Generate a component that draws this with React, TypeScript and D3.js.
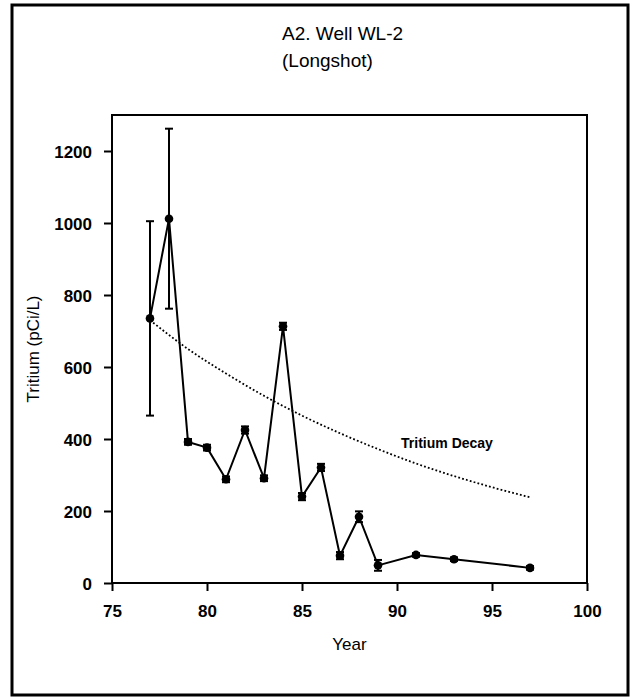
import * as d3 from 'd3';
import { useEffect, useRef } from 'react';

// measured tritium, year -> pCi/L, with +/- error
const years = [77, 78, 79, 80, 81, 82, 83, 84, 85, 86, 87, 88, 89, 91, 93, 97];
const tritium = [735, 1012, 392, 376, 288, 425, 291, 713, 240, 321, 76, 184, 49, 78, 66, 42];
const errors = [270, 250, 8, 8, 8, 10, 8, 10, 10, 10, 10, 15, 15, 5, 5, 5];

// dotted decay curve
const decayYears = [77, 79, 81, 83, 85, 87, 89, 91, 93, 95, 97];
const decayValues = [730, 650, 582, 520, 465, 416, 372, 332, 297, 266, 238];

const xTicks = [75, 80, 85, 90, 95, 100];
const yTicks = [0, 200, 400, 600, 800, 1000, 1200];

const W = 636;
const H = 698;
const plot = { left: 112, right: 587, top: 115, bottom: 583 };
const FONT = '"Liberation Sans", Arial, sans-serif';

const App = () => {
    const svgRef = useRef<SVGSVGElement>(null);

    useEffect(() => {
        const svg = d3.select(svgRef.current);
        const x = d3.scaleLinear().domain([75, 100]).range([plot.left, plot.right]);
        const y = d3.scaleLinear().domain([0, 1300]).range([plot.bottom, plot.top]);

        // outer frame
        svg.append('rect')
            .attr('x', 12).attr('y', 5)
            .attr('width', 616).attr('height', 690)
            .attr('fill', 'none').attr('stroke', '#000').attr('stroke-width', 3);

        // title
        const title = svg.append('text')
            .attr('font-family', FONT).attr('font-size', 19).attr('fill', '#000');
        title.append('tspan').attr('x', 282).attr('y', 40).text('A2. Well WL-2');
        title.append('tspan').attr('x', 282).attr('y', 67).text('(Longshot)');

        // plot box
        svg.append('rect')
            .attr('x', plot.left).attr('y', plot.top)
            .attr('width', plot.right - plot.left).attr('height', plot.bottom - plot.top)
            .attr('fill', 'none').attr('stroke', '#000').attr('stroke-width', 2);

        // axes
        const xAxis = svg.append('g')
            .attr('transform', `translate(0,${plot.bottom})`)
            .call(d3.axisBottom(x).tickValues(xTicks).tickSize(8).tickPadding(10).tickFormat(d3.format('d')));
        const yAxis = svg.append('g')
            .attr('transform', `translate(${plot.left},0)`)
            .call(d3.axisLeft(y).tickValues(yTicks).tickSize(8).tickPadding(12).tickFormat(d3.format('d')));
        [xAxis, yAxis].forEach(g => {
            g.select('.domain').remove();
            g.selectAll('line').attr('stroke', '#000').attr('stroke-width', 2);
            g.selectAll('text')
                .attr('font-family', FONT).attr('font-size', 17)
                .attr('font-weight', 'bold').attr('fill', '#000');
        });
        xAxis.selectAll('text').attr('dy', '0.95em');
        yAxis.selectAll('text').attr('dy', '0.36em');

        // axis titles
        svg.append('text')
            .attr('x', (plot.left + plot.right) / 2).attr('y', 650)
            .attr('text-anchor', 'middle')
            .attr('font-family', FONT).attr('font-size', 17)
            .text('Year');
        svg.append('text')
            .attr('transform', `translate(39,${(plot.top + plot.bottom) / 2}) rotate(-90)`)
            .attr('text-anchor', 'middle')
            .attr('font-family', FONT).attr('font-size', 17)
            .text('Tritium (pCi/L)');

        // decay curve
        const decayLine = d3.line<number>()
            .x((d, i) => x(decayYears[i]))
            .y(d => y(d))
            .curve(d3.curveMonotoneX);
        svg.append('path')
            .attr('d', decayLine(decayValues))
            .attr('fill', 'none').attr('stroke', '#000')
            .attr('stroke-width', 1.8).attr('stroke-dasharray', '1.8,2.2');
        svg.append('text')
            .attr('x', 447).attr('y', 448)
            .attr('text-anchor', 'middle')
            .attr('font-family', FONT).attr('font-size', 14).attr('font-weight', 'bold')
            .text('Tritium Decay');

        // data line
        const line = d3.line<number>()
            .x((d, i) => x(years[i]))
            .y(d => y(d));
        svg.append('path')
            .attr('d', line(tritium))
            .attr('fill', 'none').attr('stroke', '#000').attr('stroke-width', 2);

        // error bars
        const bars = svg.append('g').attr('stroke', '#000').attr('stroke-width', 2);
        years.forEach((yr, i) => {
            const cx = x(yr);
            const hi = y(tritium[i] + errors[i]);
            const lo = y(tritium[i] - errors[i]);
            bars.append('line').attr('x1', cx).attr('x2', cx).attr('y1', hi).attr('y2', lo);
            bars.append('line').attr('x1', cx - 4).attr('x2', cx + 4).attr('y1', hi).attr('y2', hi);
            bars.append('line').attr('x1', cx - 4).attr('x2', cx + 4).attr('y1', lo).attr('y2', lo);
        });

        // markers
        svg.append('g').selectAll('circle')
            .data(tritium)
            .enter()
            .append('circle')
            .attr('cx', (d, i) => x(years[i]))
            .attr('cy', d => y(d))
            .attr('r', 4.3)
            .attr('fill', '#000');

        return () => {
            svg.selectAll('*').remove();
        };
    }, []);

    return (
        <svg ref={svgRef} width={W} height={H}
            style={{ position: 'absolute', left: 0, top: 0, background: '#fff' }} />
    );
};

export default App;
